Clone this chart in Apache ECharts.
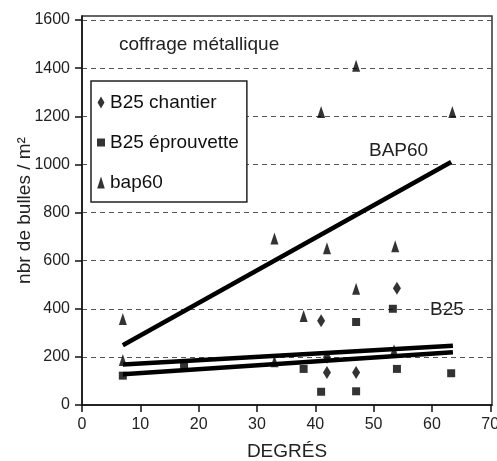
<!DOCTYPE html>
<html><head><meta charset="utf-8">
<script src="https://cdn.jsdelivr.net/npm/echarts@6/dist/echarts.min.js"></script>
<style>html,body{margin:0;padding:0;background:#fff}#c{width:497px;height:461px}</style>
</head><body><div id="c"></div>
<script>
const xTickValues = [0, 10, 20, 30, 40, 50, 60, 70];
const yTickValues = [0, 200, 400, 600, 800, 1000, 1200, 1400, 1600];
const seriesNames = ['B25 chantier', 'B25 éprouvette', 'bap60'];
const chantierData = [[41, 350], [54, 485], [42, 135], [47, 135], [42, 198]];
const eprouvetteData = [[7, 122], [17.5, 160], [38, 150], [41, 55], [47, 57], [47, 345], [53.3, 400], [54, 150], [63.3, 132]];
const bapData = [[7, 357], [7, 187], [33, 692], [42, 652], [53.7, 660], [47, 483], [38, 370], [41, 1218], [47, 1410], [63.5, 1218], [33, 182], [53.5, 228]];
const bapLine = [[7, 248], [63.3, 1010]];
const b25UpperLine = [[7, 168], [63.6, 246]];
const b25LowerLine = [[7, 128], [63.6, 219]];
const titleText = 'coffrage métallique';
const lineLabels = ['BAP60', 'B25'];

const chart = echarts.init(document.getElementById('c'), null, {renderer: 'canvas'});
const font = 'Liberation Sans, Arial, sans-serif';
const lineSeries = (data) => ({
  type: 'line', data: data, showSymbol: false, symbol: 'none', silent: true,
  lineStyle: {color: '#000', width: 4.5}, z: 5, legendHoverLink: false
});
chart.setOption({
  animation: false,
  textStyle: {fontFamily: font},
  grid: {left: 82, right: 5, top: 16, bottom: 56, outerBoundsMode: 'none', containLabel: false,
         show: true, borderColor: '#333', borderWidth: 1.5, backgroundColor: 'transparent'},
  legend: {
    orient: 'vertical', left: 91, top: 81, padding: [12, 8, 10, 6],
    itemWidth: 8, itemHeight: 12, itemGap: 21, symbolKeepAspect: true,
    backgroundColor: '#fff', borderColor: '#222', borderWidth: 1.5, borderRadius: 0,
    textStyle: {fontSize: 19, color: '#111', fontFamily: font},
    data: [
      {name: seriesNames[0], icon: 'path://M3.5,0L7,6L3.5,12L0,6Z'},
      {name: seriesNames[1], icon: 'path://M0,0H8V8H0Z'},
      {name: seriesNames[2], icon: 'path://M3.5,0L7,11L0,11Z'}
    ],
    selectedMode: false
  },
  xAxis: {
    type: 'value', min: 0, max: 70.3,
    name: 'DEGRÉS', nameLocation: 'middle', nameGap: 37, nameMoveOverlap: false,
    nameTextStyle: {fontSize: 19, color: '#222', fontFamily: font},
    axisLine: {show: true, onZero: false, lineStyle: {color: '#111', width: 1.5}},
    axisTick: {show: true, length: 7, lineStyle: {color: '#111', width: 1.5}, customValues: xTickValues},
    axisLabel: {fontSize: 16, color: '#222', margin: 12, customValues: xTickValues, formatter: v => String(v)},
    splitLine: {show: false}
  },
  yAxis: {
    type: 'value', min: 0, max: 1617,
    name: 'nbr de bulles / m²', nameLocation: 'middle', nameGap: 48, nameRotate: 90, nameMoveOverlap: false,
    nameTextStyle: {fontSize: 19, color: '#222', fontFamily: font},
    axisLine: {show: true, lineStyle: {color: '#111', width: 1.5}},
    axisTick: {show: true, length: 7, lineStyle: {color: '#111', width: 1.5}, customValues: yTickValues},
    axisLabel: {fontSize: 16, color: '#222', margin: 12, customValues: yTickValues, formatter: v => String(v)},
    splitLine: {show: true, lineStyle: {color: '#555', width: 1, type: [5, 4]}}
  },
  series: [
    {name: seriesNames[0], type: 'scatter', data: chantierData, symbol: 'diamond', symbolSize: [8, 13], itemStyle: {color: '#000'}},
    {name: seriesNames[1], type: 'scatter', data: eprouvetteData, symbol: 'rect', symbolSize: [8, 8], itemStyle: {color: '#000'}},
    {name: seriesNames[2], type: 'scatter', data: bapData, symbol: 'triangle', symbolSize: [8, 12], itemStyle: {color: '#000'}},
    lineSeries(bapLine),
    lineSeries(b25UpperLine),
    lineSeries(b25LowerLine)
  ],
  graphic: [
    {type: 'text', left: 119, top: 35, style: {text: titleText, font: '19px ' + font, fill: '#222'}},
    {type: 'text', left: 369, top: 141, style: {text: lineLabels[0], font: '19px ' + font, fill: '#222'}},
    {type: 'text', left: 430, top: 300, style: {text: lineLabels[1], font: '19px ' + font, fill: '#222'}}
  ]
});
</script>
</body></html>
